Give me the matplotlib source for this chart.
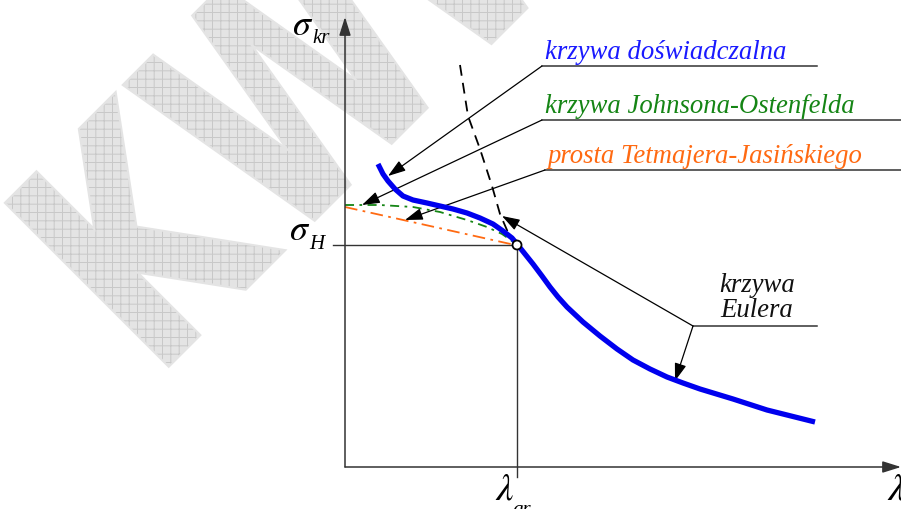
import numpy as np
import matplotlib
matplotlib.use("Agg")
import matplotlib.pyplot as plt
from matplotlib.textpath import TextPath
from matplotlib.font_manager import FontProperties
from matplotlib.patches import PathPatch, Circle
from matplotlib.transforms import Affine2D

# schematic coordinates: lambda (slenderness) and sigma (critical stress), origin at axes crossing
lam_exp = [33, 38, 43, 50, 58, 68, 82, 95, 108, 122, 135, 148, 158, 167, 172,
           180, 188, 197, 205, 213, 222, 238, 255, 272, 288, 305, 322, 338, 355, 388, 422, 470]
sig_exp = [303, 293, 286, 278, 271, 267, 264, 261, 258, 254, 249, 243, 236, 229, 223,
           213, 203, 191, 180, 170, 160, 145, 131, 118, 107, 98, 90, 84, 78, 68, 57, 45]

lam_jo = [0, 35, 68, 95, 122, 142, 157, 167, 170]
sig_jo = [262, 262, 260, 255, 247, 240, 233, 226, 223]

lam_tj = [0, 170]
sig_tj = [260, 222]

lam_eu = [115, 123, 135, 147, 155, 165]
sig_eu = [402, 351, 318, 281, 253, 230]

lam_gr = 172
sig_H = 222

labels = ["krzywa doświadczalna", "krzywa Johnsona-Ostenfelda", "prosta Tetmajera-Jasińskiego"]
label_colors = ["#1a1aff", "#158515", "#ff6a12"]
label_y = [401, 347, 297]
label_x0 = [197, 197, 200]
label_x1 = [472, 556, 556]
label_tips = [(43, 291), (17, 262), (60, 247)]

euler_knee = (348, 141)
euler_x1 = 472
euler_tips = [(330, 86), (157, 251)]

wm_letters = ["K", "W", "W"]
wm_offsets = [0, 181, 431]

plt.rcParams['mathtext.fontset'] = 'stix'
plt.rcParams['hatch.linewidth'] = 0.7

fig = plt.figure(figsize=(9.01, 5.10), dpi=100)
ax = fig.add_axes([0, 0, 1, 1])
ax.set_xlim(-345, 556)
ax.set_ylim(-42, 468)
ax.axis("off")

# watermark
fp = FontProperties(family="DejaVu Sans", weight="bold")
for ch, off in zip(wm_letters, wm_offsets):
    tp = TextPath((0, 0), ch, prop=fp, size=315)
    x0 = tp.vertices[:, 0].min()
    tr = (Affine2D().translate(-x0, 0).scale(0.72, 1.0).translate(off, 0)
          .rotate_deg(45).translate(-191, 87))
    path = tr.transform_path(tp)
    ax.add_patch(PathPatch(path, facecolor="#e4e4e4", edgecolor="#e4e4e4",
                           lw=3, joinstyle="miter", zorder=0))
    ax.add_patch(PathPatch(path, facecolor="none", edgecolor="#c8c8c8",
                           hatch="++", lw=0, zorder=0.1))

ln = "#333333"
# axes with arrows
ax.annotate("", xy=(0, 450), xytext=(0, 0),
            arrowprops=dict(arrowstyle="-|>,head_length=0.7,head_width=0.22", color=ln,
                            lw=1.1, shrinkA=0, shrinkB=0, mutation_scale=16))
ax.annotate("", xy=(556, 0), xytext=(0, 0),
            arrowprops=dict(arrowstyle="-|>,head_length=0.7,head_width=0.22", color=ln,
                            lw=1.1, shrinkA=0, shrinkB=0, mutation_scale=16))
ax.plot([-12, lam_gr], [sig_H, sig_H], color=ln, lw=1.0)
ax.plot([lam_gr, lam_gr], [-10, sig_H], color=ln, lw=1.0)

# curves
ax.plot(lam_eu, sig_eu, color="k", lw=1.3, dashes=(6, 4))
ax.plot(lam_tj, sig_tj, color="#ff6a12", lw=1.3, dashes=(7, 3, 1.5, 3))
ax.plot(lam_jo, sig_jo, color="#158515", lw=1.3, dashes=(5, 3, 1.5, 3))
ax.plot(lam_exp, sig_exp, color="#0000ee", lw=3.8, solid_capstyle="butt",
        solid_joinstyle="round", zorder=4)
ax.add_patch(Circle((lam_gr, sig_H), 4.5, facecolor="white", edgecolor="k", lw=1.3, zorder=6))

# annotations
arr = dict(arrowstyle="-|>,head_length=0.6,head_width=0.2", color="k", lw=0.9,
           shrinkA=0, shrinkB=0, mutation_scale=18)
txt = dict(family="Liberation Serif", style="italic", fontsize=19.3)
for lab, col, y, x0, x1, tip in zip(labels, label_colors, label_y, label_x0, label_x1, label_tips):
    ax.plot([x0, x1], [y, y], color=ln, lw=1.1)
    ax.annotate("", xy=tip, xytext=(x0, y), arrowprops=arr)
    ax.text(x0 + 3, y + 8, lab, color=col, ha="left", va="baseline", **txt)

ax.plot([euler_knee[0], euler_x1], [euler_knee[1], euler_knee[1]], color=ln, lw=1.1)
for tip in euler_tips:
    ax.annotate("", xy=tip, xytext=euler_knee, arrowprops=arr)
ax.text(412, 176, "krzywa", color="#111111", ha="center", va="baseline", **txt)
ax.text(412, 151, "Eulera", color="#111111", ha="center", va="baseline", **txt)

# axis symbols
sub = dict(family="Liberation Serif", style="italic", fontsize=15, ha="left", va="baseline")
ax.text(-32, 433, r"$\sigma$", fontsize=26, ha="right", va="baseline")
ax.text(-33, 425, "kr", **sub)
ax.text(-35, 228, r"$\sigma$", fontsize=26, ha="right", va="baseline")
ax.text(-36, 219, "H", **sub)
ax.text(150, -32, r"$\lambda$", fontsize=28, ha="left", va="baseline")
ax.text(168, -47, "gr", **sub)
ax.text(542, -32, r"$\lambda$", fontsize=28, ha="left", va="baseline")

fig.savefig("out.png", dpi=100)
